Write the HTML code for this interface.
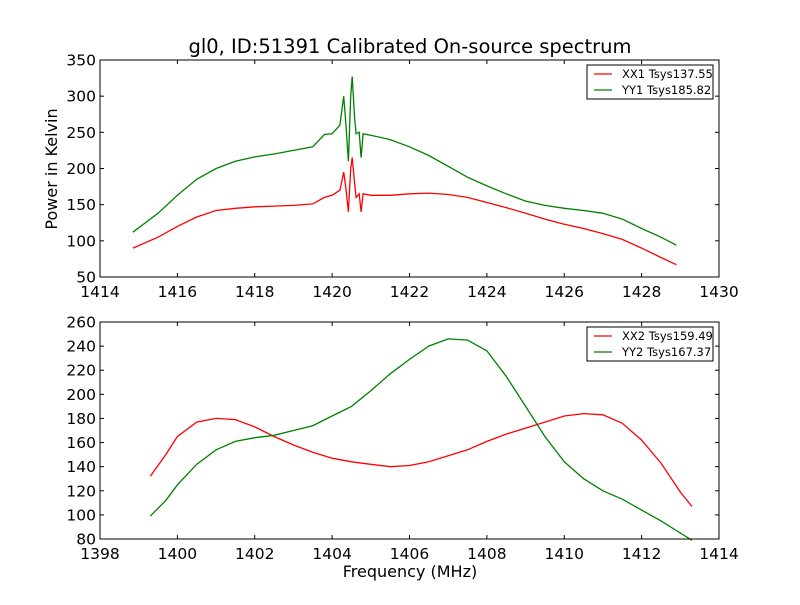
<!DOCTYPE html>
<html><head><meta charset="utf-8"><style>
body{margin:0;background:#fff;}
svg text{font-family:"DejaVu Sans","Liberation Sans",sans-serif;fill:#000;}
</style></head><body>
<svg id="c" width="800" height="600" viewBox="0 0 800 600">
<rect width="800" height="600" fill="#fff"/>
<text x="410" y="53" font-size="19.5" text-anchor="middle">gl0, ID:51391 Calibrated On-source spectrum</text>
<text x="410" y="577" font-size="16" text-anchor="middle">Frequency (MHz)</text>
<text x="0" y="0" font-size="16" text-anchor="middle" transform="translate(57,169) rotate(-90)">Power in Kelvin</text>
</svg>
<script>
const topXTicks=[1414,1416,1418,1420,1422,1424,1426,1428,1430];
const topYTicks=[50,100,150,200,250,300,350];
const botXTicks=[1398,1400,1402,1404,1406,1408,1410,1412,1414];
const botYTicks=[80,100,120,140,160,180,200,220,240,260];
const xx1F=[1414.85,1415.5,1416,1416.5,1417,1417.5,1418,1418.5,1419,1419.5,1419.8,1420,1420.2,1420.3,1420.35,1420.42,1420.48,1420.52,1420.58,1420.62,1420.7,1420.75,1420.8,1421,1421.5,1422,1422.5,1423,1423.5,1424,1424.5,1425,1425.5,1426,1426.5,1427,1427.5,1428,1428.5,1428.9];
const xx1V=[90,105,120,133,142,145,147,148,149,151,160,163,170,195,175,140,200,215,180,160,165,140,165,163,163,165,166,164,160,153,146,138,130,123,117,110,102,90,77,67];
const yy1V=[112,138,163,185,200,210,216,220,225,230,247,248,260,300,265,210,300,327,270,248,250,215,248,246,240,230,218,203,188,176,165,155,149,145,142,138,130,117,105,94];
const bF=[1399.3,1399.7,1400,1400.5,1401,1401.5,1402,1402.5,1403,1403.5,1404,1404.5,1405,1405.5,1406,1406.5,1407,1407.5,1408,1408.5,1409,1409.5,1410,1410.5,1411,1411.5,1412,1412.5,1413,1413.3];
const xx2V=[132,150,165,177,180,179,173,165,158,152,147,144,142,140,141,144,149,154,161,167,172,177,182,184,183,176,162,143,119,107];
const yy2V=[99,112,125,142,154,161,164,166,170,174,182,190,203,217,229,240,246,245,236,215,190,165,144,130,120,113,104,95,85,79];
const svg=document.getElementById('c');const NS='http://www.w3.org/2000/svg';
function mk(t,a){const e=document.createElementNS(NS,t);for(const k in a)e.setAttribute(k,a[k]);svg.appendChild(e);return e;}
function panel(name,y0,y1,xmin,xmax,ymin,ymax,xt,yt,series,legend){
 const L=100,R=719;
 const sx=v=>L+(v-xmin)/(xmax-xmin)*(R-L), sy=v=>y1-(v-ymin)/(ymax-ymin)*(y1-y0);
 series.forEach(s=>{const p=mk('polyline',{points:s.f.map((f,i)=>sx(f).toFixed(1)+','+sy(s.v[i]).toFixed(1)).join(' '),fill:'none',stroke:s.c,'stroke-width':1.3});
  
  });
 const fr=mk('rect',{x:L,y:y0,width:R-L,height:y1-y0,fill:'none',stroke:'#000','stroke-width':1});
 
 
 xt.forEach(v=>{const x=sx(v);mk('line',{x1:x,x2:x,y1:y1,y2:y1-4,stroke:'#000'});mk('line',{x1:x,x2:x,y1:y0,y2:y0+4,stroke:'#000'});
  const t=mk('text',{x:x,y:y1+20,'font-size':15.5,'text-anchor':'middle'});t.textContent=v;
  
  });
 yt.forEach(v=>{const y=sy(v);mk('line',{x1:L,x2:L+4,y1:y,y2:y,stroke:'#000'});mk('line',{x1:R,x2:R-4,y1:y,y2:y,stroke:'#000'});
  const t=mk('text',{x:L-4,y:y+5.5,'font-size':15.5,'text-anchor':'end'});t.textContent=v;
  
  });
 const lg=mk('rect',{x:587,y:y0+5,width:126,height:34,fill:'#fff',stroke:'#000'});
 
 
 legend.forEach((l,i)=>{const y=y0+14+i*16;mk('line',{x1:594,x2:612,y1:y,y2:y,stroke:l.c,'stroke-width':1.3});
  const t=mk('text',{x:622,y:y+4,'font-size':11.5});t.textContent=l.t;
  
  });
}
panel('top-panel',60,277,1414,1430,50,350,topXTicks,topYTicks,
 [{f:xx1F,v:xx1V,c:'#ff0000',n:'xx1-line'},{f:xx1F,v:yy1V,c:'#008000',n:'yy1-line'}],
 [{c:'#ff0000',t:'XX1 Tsys137.55'},{c:'#008000',t:'YY1 Tsys185.82'}]);
panel('bottom-panel',322,539,1398,1414,80,260,botXTicks,botYTicks,
 [{f:bF,v:xx2V,c:'#ff0000',n:'xx2-line'},{f:bF,v:yy2V,c:'#008000',n:'yy2-line'}],
 [{c:'#ff0000',t:'XX2 Tsys159.49'},{c:'#008000',t:'YY2 Tsys167.37'}]);
</script>
</body></html>
